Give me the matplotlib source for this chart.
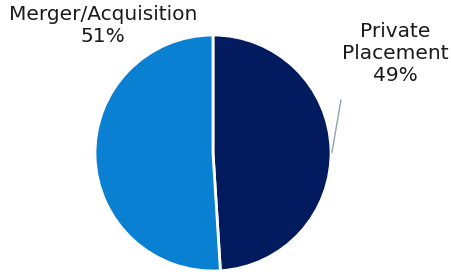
import numpy as np
import matplotlib
matplotlib.use("Agg")
import matplotlib.pyplot as plt

# data
labels = ["Private\nPlacement", "Merger/Acquisition"]
shares = [49, 51]
colors = ["#021a5e", "#0a80d2"]

W, H = 452, 275
fig = plt.figure(figsize=(W / 100, H / 100), dpi=100)
ax = fig.add_axes([0, 0, 1, 1])

cx, cy, r = 213, 122, 118
wedges, _ = ax.pie(shares, colors=colors, startangle=90, counterclock=False,
                   center=(cx, cy), radius=r, frame=True,
                   wedgeprops=dict(edgecolor="white", linewidth=2))
ax.set_xlim(0, W)
ax.set_ylim(0, H)
ax.set_aspect("equal")
ax.axis("off")

font = dict(fontsize=14.5, color="#1a1a1a", ha="center", va="center",
            linespacing=1.2)

# private placement label with leader line
w = wedges[0]
mid = np.deg2rad((w.theta1 + w.theta2) / 2)
px, py = cx + r * np.cos(mid), cy + r * np.sin(mid)
ax.plot([px + 1, px + 10], [py - 3, py + 49], color="#8fa4ad", lw=1)
ax.text(395, 222, f"{labels[0]}\n{shares[0]}%", **font)

# merger label
ax.text(103, 250, f"{labels[1]}\n{shares[1]}%", **font)

fig.savefig("out.png", dpi=100, facecolor="white")
